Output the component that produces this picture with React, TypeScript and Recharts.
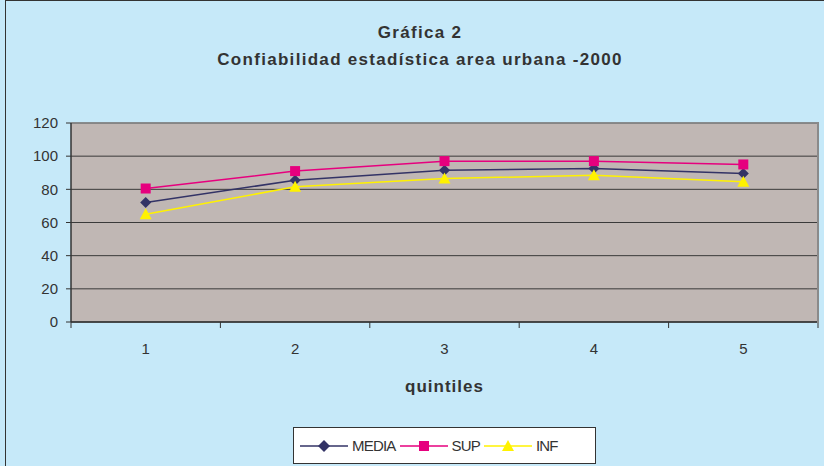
import React from "react";
import {
  LineChart,
  Line,
  XAxis,
  YAxis,
  CartesianGrid,
  ReferenceLine,
} from "recharts";

const quintiles = ["1", "2", "3", "4", "5"];
const media = [72, 85.5, 91.5, 92.5, 89.5];
const sup = [80.5, 91, 97, 97, 95];
const inf = [65, 81.5, 86.5, 88.5, 84.5];
const yTicks = [0, 20, 40, 60, 80, 100, 120];
const bandEdges = [0, 1, 2, 3, 4, 5];

const data = quintiles.map((q, i) => ({
  q,
  pos: i + 0.5,
  MEDIA: media[i],
  SUP: sup[i],
  INF: inf[i],
}));

const FONT = "'Liberation Sans', Arial, sans-serif";
const NAVY = "#333366";
const PINK = "#E6007E";
const YELLOW = "#FFF200";

const Diamond = (props: any) => {
  const { cx, cy, fill } = props;
  if (cx == null || cy == null) return null;
  const r = 5.5;
  return (
    <polygon
      points={`${cx},${cy - r} ${cx + r},${cy} ${cx},${cy + r} ${cx - r},${cy}`}
      fill={fill}
    />
  );
};

const Square = (props: any) => {
  const { cx, cy, fill } = props;
  if (cx == null || cy == null) return null;
  return <rect x={cx - 5} y={cy - 5} width={10} height={10} fill={fill} />;
};

const Triangle = (props: any) => {
  const { cx, cy, fill } = props;
  if (cx == null || cy == null) return null;
  return (
    <polygon
      points={`${cx},${cy - 6} ${cx + 6},${cy + 5} ${cx - 6},${cy + 5}`}
      fill={fill}
    />
  );
};

function LegendItem({ color, label, shape }: { color: string; label: string; shape: string }) {
  return (
    <span style={{ display: "inline-flex", alignItems: "center", marginRight: 4 }}>
      <svg width={48} height={14}>
        <line x1={0} y1={7} x2={48} y2={7} stroke={color} strokeWidth={1.5} />
        {shape === "d" && <polygon points="24,1 30,7 24,13 18,7" fill={color} />}
        {shape === "s" && <rect x={19} y={2} width={10} height={10} fill={color} />}
        {shape === "t" && <polygon points="24,1 30,12 18,12" fill={color} />}
      </svg>
      <span style={{ marginLeft: 4, letterSpacing: -0.8 }}>{label}</span>
    </span>
  );
}

const NoTick = () => <g />;

export default function App() {
  return (
    <div
      style={{
        position: "absolute",
        left: 0,
        top: 0,
        width: 824,
        height: 466,
        overflow: "hidden",
        background: "#C6E9F9",
        fontFamily: FONT,
      }}
    >
      <div
        style={{
          position: "absolute",
          left: 5,
          top: 0,
          width: 840,
          height: 490,
          border: "1.5px solid #333",
        }}
      />
      <div
        style={{
          position: "absolute",
          left: 8,
          top: 19,
          width: 824,
          textAlign: "center",
          fontWeight: "bold",
          fontSize: 17,
          letterSpacing: 1.3,
          color: "#333",
          lineHeight: "27px",
        }}
      >
        <div>Gráfica 2</div>
        <div>Confiabilidad estadística area urbana -2000</div>
      </div>
      <LineChart
        width={824}
        height={466}
        data={data}
        margin={{ top: 123, right: 6, left: 0, bottom: 113 }}
        style={{ position: "absolute", left: 0, top: 0 }}
      >
        <CartesianGrid
          xAxisId="a"
          vertical={false}
          stroke="#3a3a3a"
          fill="#C0B7B4"
          strokeWidth={1}
        />
        <XAxis
          xAxisId="a"
          dataKey="pos"
          type="number"
          domain={[0, 5]}
          ticks={bandEdges}
          interval={0}
          height={1}
          tick={<NoTick />}
          tickSize={6}
          axisLine={false}
          tickLine={{ stroke: "#333" }}
        />
        <XAxis
          xAxisId="b"
          dataKey="q"
          scale="band"
          height={30}
          tickLine={false}
          axisLine={false}
          tick={{ fill: "#333", fontSize: 15, fontFamily: FONT }}
          tickMargin={14}
        />
        <YAxis
          width={71}
          domain={[0, 120]}
          ticks={yTicks}
          interval={0}
          tickSize={5}
          tickMargin={8}
          tickLine={{ stroke: "#333" }}
          axisLine={{ stroke: "#333", strokeWidth: 1.5 }}
          tick={{ fill: "#333", fontSize: 15, fontFamily: FONT }}
        />
        <ReferenceLine xAxisId="b" y={120} stroke="#8a8a8a" strokeWidth={1.5} />
        <ReferenceLine xAxisId="b" y={0} stroke="#333" strokeWidth={1.5} />
        <Line
          xAxisId="b"
          dataKey="MEDIA"
          stroke={NAVY}
          strokeWidth={1.5}
          dot={<Diamond fill={NAVY} />}
          isAnimationActive={false}
        />
        <Line
          xAxisId="b"
          dataKey="SUP"
          stroke={PINK}
          strokeWidth={1.5}
          dot={<Square fill={PINK} />}
          isAnimationActive={false}
        />
        <Line
          xAxisId="b"
          dataKey="INF"
          stroke={YELLOW}
          strokeWidth={1.5}
          dot={<Triangle fill={YELLOW} />}
          isAnimationActive={false}
        />
      </LineChart>
      <div
        style={{
          position: "absolute",
          left: 817,
          top: 122,
          width: 1.5,
          height: 201,
          background: "#8a8a8a",
        }}
      />
      <div
        style={{
          position: "absolute",
          left: 71,
          top: 377,
          width: 747,
          textAlign: "center",
          fontWeight: "bold",
          fontSize: 17,
          letterSpacing: 1,
          color: "#333",
        }}
      >
        quintiles
      </div>
      <div
        style={{
          position: "absolute",
          left: 293,
          top: 427,
          width: 303,
          height: 37,
          border: "1px solid #333",
          background: "#fff",
          boxSizing: "border-box",
          display: "flex",
          alignItems: "center",
          paddingLeft: 6,
          fontSize: 15,
          color: "#333",
        }}
      >
        <LegendItem color={NAVY} label="MEDIA" shape="d" />
        <LegendItem color={PINK} label="SUP" shape="s" />
        <LegendItem color={YELLOW} label="INF" shape="t" />
      </div>
    </div>
  );
}
